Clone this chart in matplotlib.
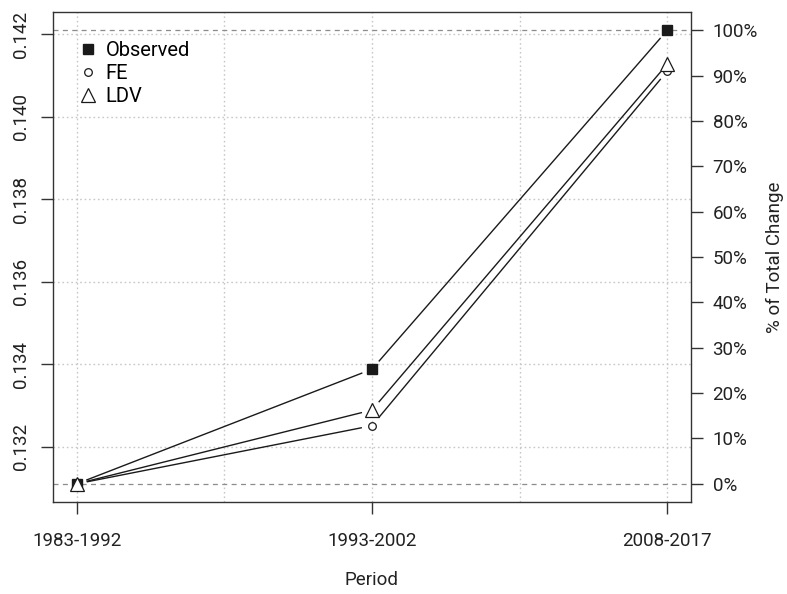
import matplotlib.pyplot as plt
from matplotlib.lines import Line2D
import numpy as np

plt.rcParams['font.family'] = ['Roboto', 'DejaVu Sans']

periods = ["1983-1992", "1993-2002", "2008-2017"]
observed = [0.13110, 0.13388, 0.14210]
fe = [0.13110, 0.13251, 0.14111]
ldv = [0.13110, 0.13289, 0.14128]

series = [
    ("Observed", observed, dict(marker="s", ms=7.5, mfc="#1a1a1a", mec="#1a1a1a")),
    ("FE", fe, dict(marker="o", ms=5.5, mfc="white", mec="#1a1a1a", mew=0.9)),
    ("LDV", ldv, dict(marker="^", ms=9.5, mfc="white", mec="#1a1a1a", mew=0.9)),
]

fs = 13.5
fig = plt.figure(figsize=(7.87, 5.94), dpi=100)
ax = fig.add_axes([53 / 787, 92 / 594, 638 / 787, 490 / 594])

x = np.arange(1, len(periods) + 1)
allv = np.concatenate([observed, fe, ldv])
lo, hi = allv.min(), allv.max()
pad = 0.04 * (hi - lo)
ax.set_xlim(1 - 0.04 * 2, len(periods) + 0.04 * 2)
ax.set_ylim(lo - pad, hi + pad)

yticks = np.arange(0.132, 0.1425, 0.002)
ax.set_yticks(yticks)
ax.set_yticklabels([f"{t:.3f}" for t in yticks], rotation=90, va="center")
ax.set_xticks(x)
ax.set_xticklabels(periods)

# dotted background grid
for gx in np.arange(1, len(periods) + 0.01, 0.5):
    ax.axvline(gx, color="#c8c8c8", ls=(0, (1.2, 2)), lw=1, zorder=0)
for gy in yticks:
    ax.axhline(gy, color="#c8c8c8", ls=(0, (1.2, 2)), lw=1, zorder=0)

# reference lines at start and end of observed change
for ref in (observed[0], observed[-1]):
    ax.axhline(ref, color="#8c8c8c", ls=(0, (4, 3.5)), lw=0.9, zorder=1)


def gapped_line(ax, xs, ys, gap=11):
    # lines between points with a gap around each point
    pts = ax.transData.transform(np.column_stack([xs, ys]))
    inv = ax.transData.inverted()
    for p0, p1 in zip(pts[:-1], pts[1:]):
        d = p1 - p0
        n = np.hypot(*d)
        if n <= 2 * gap:
            continue
        u = d / n
        a = inv.transform(p0 + u * gap)
        b = inv.transform(p1 - u * gap)
        ax.plot([a[0], b[0]], [a[1], b[1]], color="#1a1a1a", lw=1, zorder=2)


handles = []
for name, vals, style in series:
    gapped_line(ax, x, vals)
    ax.plot(x, vals, ls="none", zorder=3, **style)
    handles.append(Line2D([], [], ls="none", **style))

ax.legend(handles, [s[0] for s in series], loc="upper left",
          bbox_to_anchor=(0.026, 0.958), frameon=False, fontsize=14.5,
          handlelength=1.0, handletextpad=0.4, labelspacing=0.22,
          borderaxespad=0)

for sp in ax.spines.values():
    sp.set_color("#333333")
    sp.set_linewidth(1)
ax.tick_params(direction="out", length=8.5, width=1, color="#333333",
               labelsize=fs, labelcolor="#222222")
ax.tick_params(axis="x", pad=13)
ax.tick_params(axis="y", pad=8)
ax.set_xlabel("Period", fontsize=fs, color="#222222", labelpad=15)

# right axis: share of total observed change
ax2 = ax.twinx()
y0, y1 = observed[0], observed[-1]
ylo, yhi = ax.get_ylim()
ax2.set_ylim((ylo - y0) / (y1 - y0) * 100, (yhi - y0) / (y1 - y0) * 100)
pct = np.arange(0, 101, 10)
ax2.set_yticks(pct)
ax2.set_yticklabels([f"{p}%" for p in pct])
ax2.tick_params(direction="out", length=8.5, width=1, color="#333333",
                labelsize=fs, labelcolor="#222222", pad=7)
for sp in ax2.spines.values():
    sp.set_visible(False)
ax2.set_ylabel("% of Total Change", fontsize=fs, color="#222222", labelpad=6)

fig.savefig("out.png", dpi=100)
